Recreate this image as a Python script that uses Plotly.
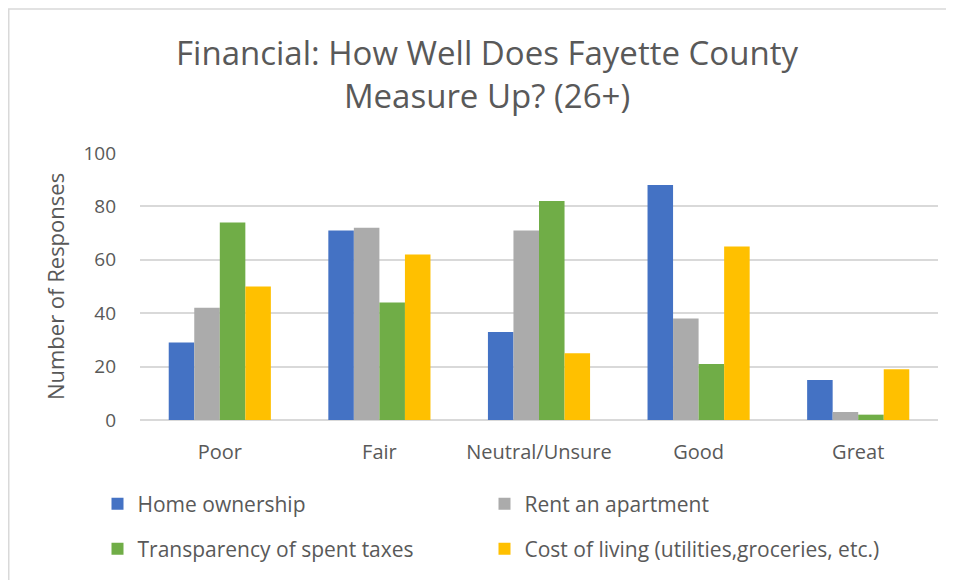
import plotly.graph_objects as go

categories = ['Poor', 'Fair', 'Neutral/Unsure', 'Good', 'Great']
home_ownership = [29, 71, 33, 88, 15]
rent_apartment = [42, 72, 71, 38, 3]
transparency_taxes = [74, 44, 82, 21, 2]
cost_of_living = [50, 62, 25, 65, 19]

series = [
    ('Home ownership', home_ownership, '#4472C4'),
    ('Rent an apartment', rent_apartment, '#ABABAB'),
    ('Transparency of spent taxes', transparency_taxes, '#70AD47'),
    ('Cost of living (utilities,groceries, etc.)', cost_of_living, '#FFC000'),
]

FONT = 'Open Sans'
TEXT = '#595959'

# plot area in figure pixels
L, R, T, B = 132, 24, 145, 168
PW, PH = 954 - L - R, 580 - T - B


def px_x(x):
    return (x - L) / PW


def px_y(y):
    return (580 - B - y) / PH


fig = go.Figure()

legend_ids = ['legend', 'legend2', 'legend3', 'legend4']
for (name, values, color), leg in zip(series, legend_ids):
    fig.add_trace(go.Bar(
        x=categories,
        y=values,
        name=name,
        legend=leg,
        marker=dict(color=color, line=dict(width=0)),
    ))

# chart frame
fig.add_shape(
    type='rect', xref='paper', yref='paper',
    x0=px_x(0.75), x1=px_x(1000), y0=px_y(700), y1=px_y(1),
    line=dict(color='#D9D9D9', width=1.5), fillcolor='rgba(0,0,0,0)',
    layer='below'
)

legend_common = dict(
    orientation='h',
    xanchor='left', yanchor='middle',
    font=dict(size=21, color=TEXT),
    itemwidth=30,
    bgcolor='rgba(0,0,0,0)',
)

# 2 x 2 legend grid, one entry per legend
col_x = [89.5, 476.5]
row_y = [496, 541]

fig.update_layout(
    title=dict(
        text='Financial: How Well Does Fayette County<br>Measure Up? (26+)',
        x=479 / 954, xanchor='center',
        y=1 - 57 / 580, yanchor='middle',
        font=dict(family=FONT, size=33, color=TEXT)
    ),
    width=954,
    height=580,
    margin=dict(l=L, r=R, t=T, b=B),
    barmode='group',
    bargap=0.36,
    bargroupgap=0,
    plot_bgcolor='white',
    paper_bgcolor='white',
    font=dict(family=FONT, size=19, color=TEXT),
    xaxis=dict(
        showgrid=False,
        showline=False,
        ticks='',
        tickfont=dict(size=20, color=TEXT),
        ticklabelstandoff=18,
    ),
    yaxis=dict(
        range=[0, 100],
        dtick=20,
        showgrid=True,
        gridcolor='#D9D9D9',
        gridwidth=1.5,
        zeroline=True,
        zerolinecolor='#D9D9D9',
        zerolinewidth=1.5,
        showline=False,
        ticks='',
        tickfont=dict(size=19, color=TEXT),
        ticklabelstandoff=23,
        title=dict(text='Number of Responses', font=dict(size=22, color=TEXT), standoff=12),
    ),
    legend=dict(legend_common, x=px_x(col_x[0]), y=px_y(row_y[0])),
    legend2=dict(legend_common, x=px_x(col_x[1]), y=px_y(row_y[0])),
    legend3=dict(legend_common, x=px_x(col_x[0]), y=px_y(row_y[1])),
    legend4=dict(legend_common, x=px_x(col_x[1]), y=px_y(row_y[1])),
    showlegend=True,
)

fig.write_html('out.html')
